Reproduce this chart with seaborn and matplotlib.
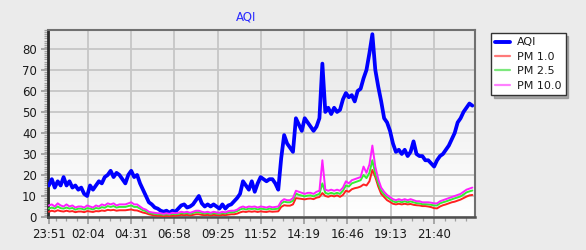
import numpy as np
import pandas as pd
import matplotlib
matplotlib.use("Agg")
import matplotlib.pyplot as plt
from matplotlib.lines import Line2D
from matplotlib.ticker import FixedLocator, MultipleLocator
import seaborn as sns

# ---------------- data ----------------
# minutes since 23:51, one reading every 10 minutes
minutes = list(range(0, 1450, 10))

aqi = [15, 18, 14, 17, 15, 19, 15, 17, 14, 15, 13, 14, 11, 10, 15, 13, 15, 17, 16, 19,
       20, 22, 19, 21, 20, 18, 16, 20, 22, 19, 20, 16, 13, 10, 7, 6, 4.5, 4, 3, 2.5,
       3, 2, 3, 2.5, 4, 5.5, 6, 4.5, 5, 6, 8, 10, 6.5, 5, 6, 5, 6, 5, 4, 6,
       4, 5.5, 6, 7.5, 9, 11, 17, 15, 13, 17, 12, 16, 19, 18, 17, 18, 18, 16, 13, 28,
       39, 35, 33, 31, 47, 44, 41, 47, 45, 43, 41, 43, 47, 73, 50, 52, 49, 52, 50, 51,
       56, 59, 57, 58, 55, 60, 61, 66, 70, 78, 87, 70, 62, 55, 47, 45, 41, 35, 31, 32,
       30, 32, 29, 31, 36, 30, 29, 29, 27, 27, 25.5, 24, 27, 29, 30, 32, 34, 37, 40, 45,
       47, 50, 52, 54, 53]

pm10 = [5.5, 6, 5, 6.5, 5.5, 5, 6, 5, 5.5, 4.5, 5,
        5, 4.5, 5.5, 5, 4.5, 5.5,
        5, 6, 5.5, 6.5, 6, 6.5, 5.5, 6, 6,
        6, 6.5, 7, 6, 6,
        5, 4, 3.5, 2.5, 2.2,
        2, 1.8, 1.8, 1.5, 1.8, 1.5, 2, 1.8, 2, 2.5, 2.2, 2.5, 2, 2.5, 3,
        3, 2.5, 2.2, 2.5, 2, 2.5, 2.2, 2, 2.5, 2.2, 2.8, 3,
        3, 3.5, 4.5, 5,
        4.5, 5, 4.8, 5, 4.5, 5, 4.8, 4.5, 5, 4.6, 4.8,
        5, 7.5, 8.5, 8,
        8, 9, 12.5,
        12, 11.5, 11, 11.5, 11.5, 11, 12, 12.5,
        27,
        13, 12.5, 13, 12.5, 13, 12.5,
        14, 17, 16, 17.5, 18, 18.5, 19,
        24, 21, 25, 34, 24, 18, 14, 12, 10.5, 9.5, 8.5,
        8, 8.5, 8, 8.5, 8, 8.5, 8, 7.5, 7.5, 7, 7,
        7, 6.8, 6.5, 6.5,
        7.5, 8, 8.5, 9, 9.5,
        10, 10.5, 11, 12, 13, 13.5, 14]

pm25 = [4, 4.5, 4, 5, 4.2, 4, 4.5, 4, 4.3, 3.5, 4,
        4, 3.5, 4.2, 4, 3.6, 4.3,
        4, 4.7, 4.4, 5.2, 4.8, 5.2, 4.5, 4.8, 4.8,
        4.8, 5.2, 5.5, 4.8, 4.8,
        4, 3.2, 2.8, 2, 1.7,
        1.5, 1.3, 1.3, 1.1, 1.3, 1.1, 1.5, 1.3, 1.5, 1.9, 1.7, 1.9, 1.5, 1.9, 2.3,
        2.3, 1.9, 1.7, 1.9, 1.5, 1.9, 1.7, 1.5, 1.9, 1.7, 2.1, 2.3,
        2.3, 2.8, 3.6, 4,
        3.6, 4, 3.8, 4, 3.6, 4, 3.8, 3.6, 4, 3.7, 3.8,
        4, 6.5, 7.3, 7,
        7, 7.8, 11.2,
        10.5, 10.2, 9.8, 10.2, 10.3, 9.8, 10.5, 11,
        16,
        11.5, 11, 11.5, 11, 11.5, 11,
        12.5, 15, 14.5, 16, 16.5, 17, 17.5,
        20, 18.5, 21, 27, 20.5, 16, 12.5, 10.8, 9.5, 8.5, 7.5,
        7, 7.5, 7, 7.5, 7, 7.4, 7, 6.6, 6.5, 6.1, 6.1,
        6, 5.8, 5.5, 5.5,
        6.5, 7, 7.4, 7.9, 8.4,
        8.9, 9.3, 9.8, 10.7, 11.7, 12.2, 12.6]

pm1 = [2.5, 3, 2.6, 3.2, 2.8, 2.6, 3, 2.6, 2.8, 2.3, 2.6,
       2.6, 2.3, 2.8, 2.6, 2.4, 2.8,
       2.7, 3.1, 2.9, 3.4, 3.2, 3.4, 3, 3.2, 3.2,
       3.2, 3.4, 3.6, 3.2, 3.1,
       2.6, 2.1, 1.8, 1.3, 1,
       0.8, 0.6, 0.6, 0.4, 0.6, 0.4, 0.7, 0.6, 0.8, 1, 0.9, 1, 0.8, 1, 1.3,
       1.3, 1, 0.9, 1, 0.8, 1, 0.9, 0.8, 1, 0.9, 1.1, 1.3,
       1.3, 1.6, 2.2, 2.6,
       2.4, 2.7, 2.5, 2.7, 2.4, 2.7, 2.5, 2.4, 2.7, 2.5, 2.6,
       2.7, 4.8, 5.6, 5.4,
       5.4, 6, 9,
       8.8, 8.6, 8.4, 8.7, 8.8, 8.5, 9.2, 9.5,
       11.4,
       10, 9.6, 10.2, 9.8, 10.3, 9.6,
       10.5, 12.5, 12, 13.2, 13.7, 14, 14.5,
       15.5, 15, 17, 22.4, 19, 14.5, 11, 9.5, 8, 7.2, 6.3,
       6, 6.3, 6, 6.3, 6, 6.2, 5.8, 5.6, 5.5, 5.2, 5.2,
       5, 4.7, 4.2, 4.1,
       5, 5.6, 6, 6.5, 7,
       7.3, 7.8, 8.3, 9, 9.7, 10.3, 10.5]

tick_minutes = [0, 133, 280, 427, 574, 721, 868, 1015, 1162, 1309]
tick_labels = ["23:51", "02:04", "04:31", "06:58", "09:25", "11:52",
               "14:19", "16:46", "19:13", "21:40"]
series_names = ["AQI", "PM 1.0", "PM 2.5", "PM 10.0"]

# ---------------- figure ----------------
sns.set_theme(style="white")
plt.rcParams["font.family"] = ["DejaVu Sans"]

line_colors = {"AQI": "#0000ff", "PM 1.0": "#ff2020", "PM 2.5": "#33ee33", "PM 10.0": "#ff20ff"}
legend_colors = {"AQI": "#0000ff", "PM 1.0": "#ff7a7a", "PM 2.5": "#7de87d", "PM 10.0": "#ff80ff"}
widths = {"AQI": 2.7, "PM 1.0": 1.4, "PM 2.5": 1.4, "PM 10.0": 1.4}

df = pd.DataFrame({
    "minute": minutes * 4,
    "value": aqi + pm1 + pm25 + pm10,
    "series": [s for s in series_names for _ in minutes],
})

fig = plt.figure(figsize=(5.86, 2.5), dpi=100, facecolor="#ebebeb")
ax = fig.add_axes([48 / 586, 1 - 217 / 250, 427 / 586, 187 / 250])

# gradient background in plot area: light gray at top, white at bottom
n = 200
level = np.clip(np.linspace(1.0, -0.3, n), 0, 1)      # row 0 = bottom (white)
top_gray = np.array([0.925, 0.925, 0.925])
rgb = np.ones((n, 1, 3)) - (np.ones(3) - top_gray)[None, None, :] * (1 - level[:, None, None])
ax.imshow(rgb, aspect="auto", extent=[0, 1, 0, 1], transform=ax.transAxes,
          zorder=0, origin="lower", interpolation="bilinear")

for name in series_names:
    sub = df[df["series"] == name]
    sns.lineplot(data=sub, x="minute", y="value", ax=ax, color=line_colors[name],
                 linewidth=widths[name], legend=False, zorder=3)

ax.set_xlim(-3, 1449)
ax.set_ylim(0, 89)
ax.set_xlabel("")
ax.set_ylabel("")

ax.xaxis.set_major_locator(FixedLocator(tick_minutes))
ax.set_xticklabels(tick_labels)
ax.xaxis.set_minor_locator(FixedLocator(list(np.arange(133 - 3 * 36.75, 1449, 36.75))))
ax.yaxis.set_major_locator(FixedLocator(list(range(0, 81, 10))))
ax.yaxis.set_minor_locator(MultipleLocator(1))

ax.tick_params(axis="both", which="major", length=5, width=1.2, color="#9a9a9a",
               labelsize=8.5, labelcolor="#1a1a1a", pad=3, direction="out",
               bottom=True, left=True)
ax.tick_params(axis="both", which="minor", length=3, width=0.9, color="#a0a0a0",
               direction="out", bottom=True, left=True)

ax.grid(True, which="major", color="#c6c6c6", linewidth=1.3, zorder=1)
ax.set_axisbelow(True)

for side in ["top", "right"]:
    ax.spines[side].set_color("#707070")
    ax.spines[side].set_linewidth(1.5)
ax.spines["left"].set_color("#2a2a2a")
ax.spines["left"].set_linewidth(2.0)
ax.spines["bottom"].set_color("#505050")
ax.spines["bottom"].set_linewidth(1.8)

fig.text(246 / 586, 1 - 17 / 250, "AQI", color="#2a2aff", ha="center", va="center",
         fontsize=8.5)

handles = [Line2D([0], [0], color=legend_colors[s], linewidth=(2.8 if s == "AQI" else 1.6))
           for s in series_names]
leg = fig.legend(handles, series_names, loc="upper left",
                 bbox_to_anchor=(491 / 586, 1 - 33 / 250), bbox_transform=fig.transFigure,
                 borderaxespad=0, frameon=True, fancybox=False,
                 shadow={"color": "#8a8a8a", "alpha": 0.7},
                 fontsize=8, handlelength=1.3, handletextpad=0.6,
                 labelspacing=0.4, borderpad=0.4)
leg.get_frame().set_edgecolor("#333333")
leg.get_frame().set_linewidth(1.0)
leg.get_frame().set_facecolor("white")
for t in leg.get_texts():
    t.set_color("#1a1a1a")

fig.savefig("out.png", dpi=100, facecolor=fig.get_facecolor())
